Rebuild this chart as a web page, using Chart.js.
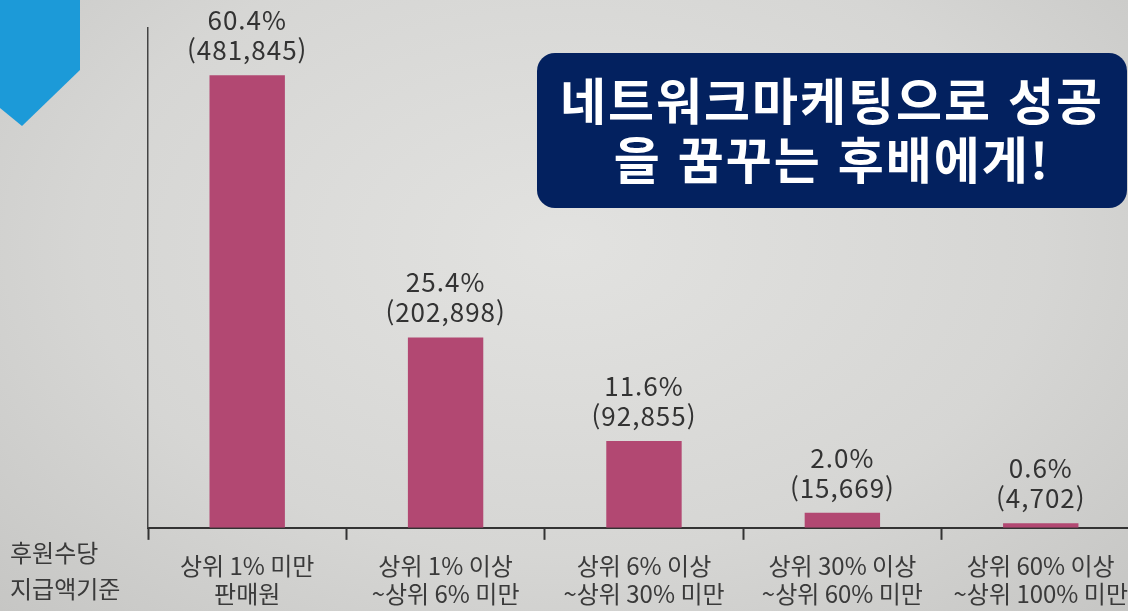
<!DOCTYPE html>
<html lang="ko">
<head>
<meta charset="utf-8">
<title>후원수당 지급액 기준</title>
<script src="https://cdn.jsdelivr.net/npm/chart.js@4/dist/chart.umd.min.js"></script>
<style>
    html, body {
        margin: 0;
        padding: 0;
        width: 1128px;
        height: 611px;
        overflow: hidden;
        background: radial-gradient(ellipse at 50% 40%, #e2e2e0 0%, #d6d6d4 60%, #c6c6c4 100%);
        font-family: "Noto Sans CJK KR", "Noto Sans", sans-serif;
    }
    #wrap {
        position: absolute;
        left: 0;
        top: 0;
        width: 1140px;
        height: 620px;
    }
    #ribbon {
        position: absolute;
        left: 0;
        top: 0;
        width: 80px;
        height: 126px;
        background: #1c9ad8;
        clip-path: polygon(0 0, 80px 0, 80px 70px, 22px 126px, 0 108px);
    }
    #banner {
        position: absolute;
        left: 537px;
        top: 53px;
        width: 590px;
        height: 155px;
        border-radius: 18px;
        background: #03215f;
        color: #fff;
        font-weight: 700;
        font-size: 50px;
        line-height: 59px;
        text-align: center;
        padding-top: 16px;
        box-sizing: border-box;
        letter-spacing: 2px;
    }
    #axisTitle {
        position: absolute;
        left: 10px;
        top: 534px;
        font-size: 24px;
        line-height: 36px;
        color: #3a3a3a;
    }
</style>
</head>
<body>
<div id="wrap"><canvas id="chart"></canvas></div>
<div id="ribbon"></div>
<div id="banner">네트워크마케팅으로 성공<br>을 꿈꾸는 후배에게!</div>
<div id="axisTitle">후원수당<br>지급액기준</div>
<script>
const categories = [
    ['상위 1% 미만', '판매원'],
    ['상위 1% 이상', '~상위 6% 미만'],
    ['상위 6% 이상', '~상위 30% 미만'],
    ['상위 30% 이상', '~상위 60% 미만'],
    ['상위 60% 이상', '~상위 100% 미만']
];
const percents = [60.4, 25.4, 11.6, 2.0, 0.6];
const counts = [481845, 202898, 92855, 15669, 4702];

const textColor = '#333333';

// two-line label over each bar: percent and (count)
const barLabels = {
    id: 'barLabels',
    afterDatasetsDraw(chart) {
        const ctx = chart.ctx;
        const meta = chart.getDatasetMeta(0);
        ctx.save();
        ctx.fillStyle = textColor;
        ctx.textAlign = 'center';
        ctx.textBaseline = 'alphabetic';
        ctx.font = '26px "Noto Sans CJK KR", "Noto Sans", sans-serif';
        ctx.letterSpacing = '1px';
        meta.data.forEach((bar, i) => {
            const p = bar.getProps(['x', 'y'], true);
            ctx.fillText('(' + counts[i].toLocaleString('en-US') + ')', p.x, p.y - 15);
            ctx.fillText(percents[i].toFixed(1) + '%', p.x, p.y - 45);
        });
        ctx.restore();
    }
};

document.addEventListener('DOMContentLoaded', function () {
    const ctx = document.getElementById('chart').getContext('2d');
    new Chart(ctx, {
        type: 'bar',
        data: {
            labels: categories,
            datasets: [{
                data: percents,
                backgroundColor: '#b24872',
                borderWidth: 0,
                barPercentage: 0.38,
                categoryPercentage: 1.0
            }]
        },
        options: {
            responsive: true,
            maintainAspectRatio: false,
            animation: false,
            layout: {
                padding: { left: 140, right: 0, top: 28, bottom: 0 }
            },
            plugins: {
                legend: { display: false },
                tooltip: { enabled: false }
            },
            scales: {
                x: {
                    offset: true,
                    grid: {
                        display: true,
                        offset: true,
                        drawOnChartArea: false,
                        drawTicks: true,
                        tickLength: 12,
                        tickWidth: 2,
                        tickColor: '#333'
                    },
                    border: { display: true, color: '#333', width: 2 },
                    ticks: {
                        color: '#3a3a3a',
                        padding: 12,
                        maxRotation: 0,
                        autoSkip: false,
                        font: { family: '"Noto Sans CJK KR", "Noto Sans", sans-serif', size: 24, lineHeight: 1.17 }
                    }
                },
                y: {
                    min: 0,
                    max: 66.7,
                    grid: { display: false },
                    border: { display: true, color: '#444', width: 1.5 },
                    ticks: { display: false }
                }
            }
        },
        plugins: [barLabels]
    });
});
</script>
</body>
</html>
